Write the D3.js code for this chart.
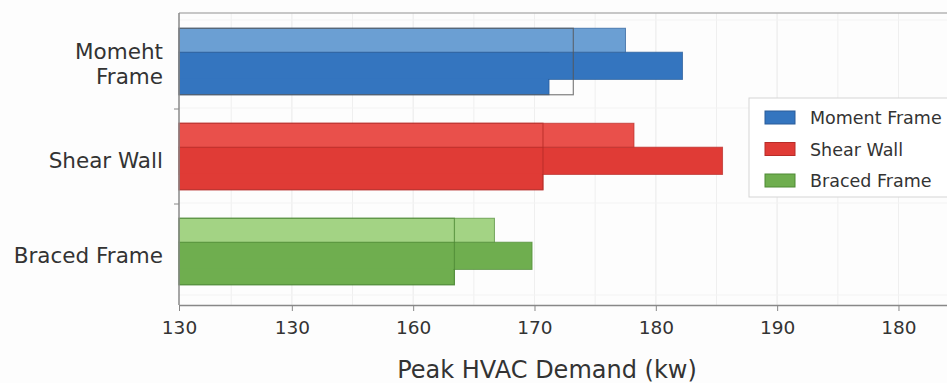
<!DOCTYPE html>
<html>
<head>
<meta charset="utf-8">
<script src="https://cdn.jsdelivr.net/npm/d3@7"></script>
<style>
  body { margin: 0; background: #fdfdfd; }
  svg { display: block; font-family: "DejaVu Sans", sans-serif; }
</style>
</head>
<body>
<div id="chart"></div>
<script>
// ---------------------------------------------------------------------------
// Data

const categories = ['Momeht Frame', 'Shear Wall', 'Braced Frame'];
const legendNames = ['Moment Frame', 'Shear Wall', 'Braced Frame'];
const lightValues = [177.5, 178.2, 166.7];
const darkValues = [182.2, 185.5, 169.8];
const lowerValues = [171.2, 170.7, 163.4];
const outlineValues = [173.2, 170.7, 163.4];
const tickValues = [140.7, 150, 160, 170, 180, 190, 200];
const tickLabels = ['130', '130', '160', '170', '180', '190', '180'];

// ---------------------------------------------------------------------------
// Styles

const lightColors = ['#6b9fd3', '#e9504b', '#a3d384'];
const darkColors = ['#3475bf', '#e03b36', '#6fae4f'];
const strokeColors = ['#2a5d99', '#b82c28', '#4e8a35'];

const width = 947;
const height = 383;
const plotLeft = 179, plotRight = 947, plotTop = 13, plotBottom = 305;

const svg = d3.select('#chart')
  .append('svg')
  .attr('width', width)
  .attr('height', height);

const x = d3.scaleLinear()
  .domain([140.7, 204])
  .range([plotLeft, plotRight]);

const y = d3.scaleBand()
  .domain(categories)
  .range([14, 299])
  .paddingInner(0.3)
  .paddingOuter(0.15);

// grid
const minor = d3.range(145, 204, 5);
svg.append('g')
  .selectAll('line')
  .data(minor.concat(tickValues.slice(1)))
  .enter()
  .append('line')
  .attr('x1', d => x(d)).attr('x2', d => x(d))
  .attr('y1', plotTop).attr('y2', plotBottom)
  .attr('stroke', '#efefef')
  .attr('stroke-width', 1);

svg.append('g')
  .selectAll('line')
  .data([108, 203, 20, 295])
  .enter()
  .append('line')
  .attr('x1', plotLeft).attr('x2', plotRight)
  .attr('y1', d => d).attr('y2', d => d)
  .attr('stroke', '#f3f3f3');

// frame top
svg.append('line')
  .attr('x1', plotLeft).attr('x2', plotRight)
  .attr('y1', plotTop).attr('y2', plotTop)
  .attr('stroke', '#b5b5b5')
  .attr('stroke-width', 1.5);

// bars
const groups = svg.selectAll('g.cat')
  .data(categories)
  .enter()
  .append('g')
  .attr('class', 'cat');

const bw = y.bandwidth();
const lightH = bw * 0.36;
const darkH = bw * 0.41;

// stroked dark + lower bars
groups.append('rect')
  .attr('x', plotLeft)
  .attr('y', d => y(d) + lightH)
  .attr('width', (d, i) => x(lowerValues[i]) - plotLeft)
  .attr('height', bw - lightH)
  .attr('fill', (d, i) => darkColors[i])
  .attr('stroke', (d, i) => strokeColors[i])
  .attr('stroke-opacity', 0.7);

groups.append('rect')
  .attr('x', plotLeft)
  .attr('y', d => y(d) + lightH)
  .attr('width', (d, i) => x(darkValues[i]) - plotLeft)
  .attr('height', darkH)
  .attr('fill', (d, i) => darkColors[i])
  .attr('stroke', (d, i) => strokeColors[i])
  .attr('stroke-opacity', 0.7);

// fills over to hide inner edges
groups.append('rect')
  .attr('x', plotLeft + 1)
  .attr('y', d => y(d) + lightH + 1)
  .attr('width', (d, i) => x(lowerValues[i]) - plotLeft - 2)
  .attr('height', bw - lightH - 2)
  .attr('fill', (d, i) => darkColors[i]);

groups.append('rect')
  .attr('x', plotLeft + 1)
  .attr('y', d => y(d) + lightH + 1)
  .attr('width', (d, i) => x(darkValues[i]) - plotLeft - 2)
  .attr('height', darkH - 2)
  .attr('fill', (d, i) => darkColors[i]);

groups.append('rect')
  .attr('x', plotLeft)
  .attr('y', d => y(d))
  .attr('width', (d, i) => x(lightValues[i]) - plotLeft)
  .attr('height', lightH)
  .attr('fill', (d, i) => lightColors[i])
  .attr('stroke', (d, i) => strokeColors[i])
  .attr('stroke-opacity', 0.7);

groups.append('rect')
  .attr('x', plotLeft)
  .attr('y', d => y(d))
  .attr('width', (d, i) => x(outlineValues[i]) - plotLeft)
  .attr('height', bw)
  .attr('fill', 'none')
  .attr('stroke', (d, i) => i === 0 ? '#555' : strokeColors[i])
  .attr('stroke-opacity', 0.75)
  .attr('stroke-width', 1.2);

// x axis
const xAxis = d3.axisBottom(x)
  .tickValues(tickValues)
  .tickFormat((d, i) => tickLabels[i])
  .tickSize(6)
  .tickSizeOuter(0);

const gx = svg.append('g')
  .attr('transform', `translate(0,${plotBottom})`)
  .call(xAxis);
gx.select('.domain').attr('stroke', '#888').attr('stroke-width', 1.5);
gx.selectAll('.tick line').attr('stroke', '#888');
gx.selectAll('.tick text')
  .attr('font-size', 18.5)
  .attr('fill', '#333')
  .attr('y', 16)
  .attr('dy', '0.71em')
  .attr('font-family', '"DejaVu Sans", sans-serif');

// y axis line and ticks
svg.append('line')
  .attr('x1', plotLeft).attr('x2', plotLeft)
  .attr('y1', plotTop).attr('y2', plotBottom)
  .attr('stroke', '#888')
  .attr('stroke-width', 1.5);

svg.selectAll('line.ytick')
  .data(categories.slice(1))
  .enter()
  .append('line')
  .attr('class', 'ytick')
  .attr('x1', plotLeft - 5).attr('x2', plotLeft)
  .attr('y1', d => y(d) - y.step() * y.paddingInner() / 2)
  .attr('y2', d => y(d) - y.step() * y.paddingInner() / 2)
  .attr('stroke', '#888');

// y labels
const ylab = svg.selectAll('text.ylab')
  .data(categories)
  .enter()
  .append('text')
  .attr('class', 'ylab')
  .attr('text-anchor', 'end')
  .attr('font-size', 21.5)
  .attr('fill', '#333')
  .attr('x', 163)
  .attr('y', (d, i) => y(d) + bw / 2 + (i === 0 ? 2 : 4));

ylab.each(function(d, i) {
  const t = d3.select(this);
  const lines = i === 0 ? ['Momeht', 'Frame'] : [d];
  lines.forEach((ln, j) => {
    t.append('tspan')
      .attr('x', 163)
      .attr('dy', j === 0 ? (lines.length === 1 ? '0.35em' : '-0.2em') : '1.15em')
      .text(ln);
  });
});

// axis title
svg.append('text')
  .attr('x', 547)
  .attr('y', 378)
  .attr('text-anchor', 'middle')
  .attr('font-size', 24)
  .attr('fill', '#333')
  .text('Peak HVAC Demand (kw)');

// legend
const lg = svg.append('g').attr('transform', 'translate(749,98)');
lg.append('rect')
  .attr('width', 210)
  .attr('height', 99)
  .attr('fill', '#fff')
  .attr('stroke', '#d5d5d5');

const items = lg.selectAll('g.item')
  .data(legendNames)
  .enter()
  .append('g')
  .attr('class', 'item')
  .attr('transform', (d, i) => `translate(16,${20 + i * 31.5})`);

items.append('rect')
  .attr('y', -7)
  .attr('width', 30)
  .attr('height', 13)
  .attr('fill', (d, i) => darkColors[i])
  .attr('stroke', (d, i) => strokeColors[i]);

items.append('text')
  .attr('x', 45)
  .attr('dy', '0.35em')
  .attr('font-size', 17.5)
  .attr('fill', '#333')
  .text(d => d);
</script>
</body>
</html>
